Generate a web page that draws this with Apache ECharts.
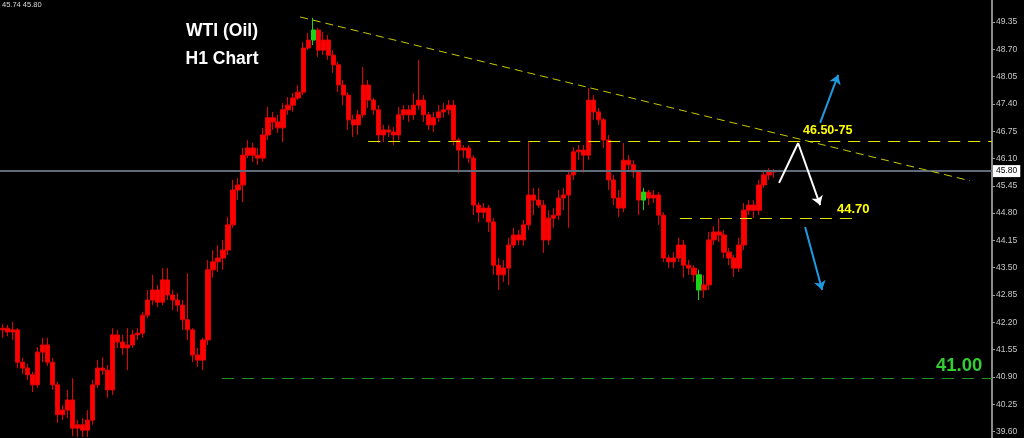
<!DOCTYPE html>
<html>
<head>
<meta charset="utf-8">
<script src="https://cdn.jsdelivr.net/npm/echarts@6/dist/echarts.min.js"></script>
<style>
html,body{margin:0;padding:0;background:#000;}
#chart{width:1024px;height:438px;}
</style>
</head>
<body>
<div id="chart"></div>
<script>
// ---- data (H1 candles, oldest first) ----
const open0 = 42.02;
const closes = [
42.06,41.97,42.02,41.25,41.11,40.95,40.71,41.49,41.66,41.25,
40.71,40.00,40.11,40.35,39.68,39.76,39.63,39.87,40.71,41.11,
41.06,40.59,41.90,41.73,41.59,41.66,41.90,41.94,42.37,42.73,
42.97,42.68,43.21,42.85,42.73,42.61,42.26,42.02,41.42,41.30,
41.78,43.45,43.64,43.73,43.92,44.52,45.35,45.47,46.18,46.35,
46.18,46.11,46.66,47.07,46.97,46.83,47.26,47.37,47.54,47.68,
48.73,48.92,49.16,48.68,48.92,48.56,48.33,47.85,47.61,47.02,
46.90,47.14,47.85,47.49,47.26,46.66,46.78,46.73,46.66,47.14,
47.26,47.14,47.37,47.49,47.14,46.90,47.07,47.21,47.26,47.37,
46.54,46.30,46.35,46.11,44.99,44.82,44.92,44.59,43.56,43.33,
43.49,44.04,44.28,44.16,44.52,45.23,45.11,44.99,44.16,44.68,
44.75,45.16,45.23,45.71,46.26,46.30,46.18,47.49,47.21,47.02,
46.54,45.59,45.16,44.92,46.06,45.95,45.78,45.11,45.30,45.16,
45.23,44.75,43.73,43.64,43.73,44.04,43.56,43.49,43.33,42.97,
43.09,44.16,44.35,44.28,43.87,43.73,43.49,44.04,44.87,44.99,
44.87,45.47,45.71,45.78,45.80];
const highs = [
42.16,42.14,42.21,42.06,41.35,41.21,41.02,41.61,41.83,41.83,
41.35,40.78,40.23,40.59,40.87,39.87,39.92,40.11,40.83,41.30,
41.37,41.18,42.06,42.02,41.90,42.06,42.02,42.06,42.45,42.97,
43.33,43.09,43.49,43.49,42.97,42.90,42.73,43.37,42.06,41.59,
41.83,43.68,43.92,44.04,44.16,44.71,45.59,45.64,46.35,46.54,
46.47,46.35,46.83,47.33,47.21,47.14,47.42,47.56,47.66,47.85,
48.87,49.09,49.45,49.21,49.11,49.04,48.68,48.40,47.97,47.68,
47.14,47.26,48.28,47.97,47.54,47.37,46.90,46.90,46.85,47.33,
47.37,47.37,47.66,48.45,47.61,47.21,47.21,47.37,47.42,47.49,
47.49,46.59,46.42,46.42,46.18,45.06,45.04,44.99,44.68,43.73,
43.68,44.21,44.45,44.40,44.64,46.49,45.40,45.40,45.11,44.87,
44.92,45.35,45.40,45.83,46.37,46.42,46.42,47.78,47.61,47.30,
47.07,46.66,45.71,45.35,46.47,46.18,46.06,45.83,45.40,45.35,
45.35,45.30,44.82,43.80,43.87,44.21,44.16,43.68,43.56,43.45,
43.33,44.35,44.49,44.68,44.40,43.97,43.80,44.21,45.04,45.11,
45.11,45.59,45.83,45.87,45.85];
const lows = [
41.83,41.87,41.78,41.11,40.97,40.83,40.54,40.64,41.25,41.16,
40.59,39.80,39.87,39.92,39.49,39.47,39.47,39.47,39.76,40.64,
40.95,40.40,40.47,41.59,41.42,41.06,41.59,41.78,41.83,42.30,
42.61,42.56,42.61,42.73,42.49,42.45,42.02,41.78,41.25,41.14,
41.06,41.66,43.26,43.40,43.45,43.80,44.45,45.11,45.06,46.11,
46.02,45.95,46.02,46.54,46.78,46.71,46.49,47.14,47.21,47.49,
47.61,48.68,48.80,48.52,48.56,48.45,48.14,47.68,47.37,46.78,
46.61,46.66,47.07,47.30,47.14,46.47,46.49,46.61,46.42,46.54,
47.02,46.97,47.02,47.26,46.97,46.78,46.73,46.97,47.07,47.14,
46.42,45.76,46.11,45.99,44.75,44.57,44.68,44.35,43.33,42.97,
43.16,43.09,43.97,44.04,44.02,44.40,44.75,44.92,43.85,44.04,
44.45,44.64,44.87,44.45,45.59,46.06,45.76,46.06,47.02,46.90,
46.35,45.35,44.99,44.71,44.82,45.83,45.64,44.75,44.87,44.99,
45.04,44.52,43.64,43.49,43.49,43.64,43.26,43.33,43.16,42.73,
42.78,42.97,44.04,44.11,43.73,43.56,43.28,43.40,43.92,44.75,
44.68,44.75,45.40,45.59,45.64];
const greenCandles = [62, 128, 139];
const slotCount = 198;                      // hourly slots across the plot (incl. empty future)
const tickLabels = [49.35,48.70,48.05,47.40,46.75,46.10,45.45,44.80,44.15,43.50,42.85,42.20,41.55,40.90,40.25,39.60];
const yMin = 39.445, yMax = 49.874;
const currentPrice = 45.80;
const bidAsk = '45.74 45.80';
// annotation lines: [slot position, price]
const trendLine = [[59.9, 49.47], [193.6, 45.57]];
const resistance = [[73.5, 46.51], [198, 46.51]];
const supportLine = [[135.7, 44.68], [170.7, 44.68]];
const greenLine = [[44.3, 40.87], [198, 40.87]];
const blueUp = [[163.7, 46.95], [167.3, 48.09]];
const blueDown = [[160.7, 44.47], [164.1, 42.97]];
const whiteUp = [[155.5, 45.52], [159.3, 46.47]];
const whiteDown = [[159.3, 46.47], [163.7, 44.99]];

// ---- build ----
const cats = [];
for (let i = 0; i < slotCount; i++) cats.push('h' + i);
const ohlc = closes.map((c, i) => {
  const o = i === 0 ? open0 : closes[i - 1];
  const item = { value: [o, c, lows[i], highs[i]] };
  if (greenCandles.includes(i)) {
    item.itemStyle = { color: '#19d419', color0: '#19d419', borderColor: '#19d419', borderColor0: '#19d419' };
  }
  return item;
});

const FONT = 'Liberation Sans, Arial, sans-serif';
const chart = echarts.init(document.getElementById('chart'), null, { renderer: 'canvas' });

function lineSeries(coords, color, width, type, arrow, z) {
  return {
    type: 'lines', coordinateSystem: 'cartesian2d', xAxisIndex: 1, yAxisIndex: 0,
    z: z || 5, silent: true, animation: false,
    symbol: arrow ? ['none', 'arrow'] : ['none', 'none'],
    symbolSize: arrow ? 9 : 0,
    lineStyle: { color: color, width: width, type: type, opacity: 1, curveness: 0 },
    data: [{ coords: coords }]
  };
}

chart.setOption({
  backgroundColor: '#000000',
  animation: false,
  grid: { left: 0, right: 32, top: 0, bottom: 0, containLabel: false },
  xAxis: [
    { type: 'category', data: cats, boundaryGap: true, show: false },
    { type: 'value', min: 0, max: slotCount, show: false }
  ],
  yAxis: {
    type: 'value', position: 'right', min: yMin, max: yMax, scale: true,
    axisLine: { show: true, onZero: false, lineStyle: { color: '#8a8a8a', width: 2 } },
    axisTick: { show: true, length: 3, customValues: tickLabels, lineStyle: { color: '#9a9a9a' } },
    axisLabel: { show: true, customValues: tickLabels, color: '#c8c8c8', fontSize: 8.5, fontFamily: FONT, margin: 4,
      formatter: v => v.toFixed(2) },
    splitLine: { show: false }
  },
  series: [
    {
      type: 'candlestick', name: 'WTI', z: 3,
      barWidth: '94%',
      itemStyle: { color: '#ff0000', color0: '#ff0000', borderColor: '#e60000', borderColor0: '#e60000', borderWidth: 1 },
      data: ohlc,
      markLine: {
        silent: true, symbol: ['none', 'none'], animation: false,
        lineStyle: { color: '#5f6b78', width: 2, type: 'solid' },
        label: { show: true, position: 'end', distance: 1, formatter: currentPrice.toFixed(2),
          backgroundColor: '#ffffff', color: '#000000', fontSize: 8.5, fontFamily: FONT, padding: [2, 3, 1, 3] },
        data: [{ yAxis: currentPrice }]
      }
    },
    lineSeries(trendLine, '#c9c900', 1, [8, 5], false),
    lineSeries(resistance, '#e6e600', 1, [12, 8], false),
    lineSeries(supportLine, '#e6e600', 1, [12, 8], false),
    lineSeries(greenLine, '#1f8f1f', 1, [12, 8], false),
    lineSeries(blueUp, '#1e9be0', 2, 'solid', true, 6),
    lineSeries(blueDown, '#1e9be0', 2, 'solid', true, 6),
    lineSeries(whiteUp, '#ffffff', 2, 'solid', false, 6),
    lineSeries(whiteDown, '#ffffff', 2, 'solid', true, 6)
  ],
  graphic: [
    { type: 'text', left: 2, top: 1, z: 10, style: { text: bidAsk, fill: '#d8d8d8', fontSize: 7.5, fontFamily: FONT } },
    { type: 'text', x: 222, y: 31.5, z: 10, style: { text: 'WTI (Oil)', fill: '#ffffff', fontSize: 17.5, fontWeight: 'bold', fontFamily: FONT, align: 'center', verticalAlign: 'middle' } },
    { type: 'text', x: 222, y: 59.5, z: 10, style: { text: 'H1 Chart', fill: '#ffffff', fontSize: 17.5, fontWeight: 'bold', fontFamily: FONT, align: 'center', verticalAlign: 'middle' } },
    { type: 'text', x: 803, y: 130.5, z: 10, style: { text: '46.50-75', fill: '#ffff00', fontSize: 12.5, fontWeight: 'bold', fontFamily: FONT, align: 'left', verticalAlign: 'middle' } },
    { type: 'text', x: 837, y: 209.5, z: 10, style: { text: '44.70', fill: '#ffff00', fontSize: 13, fontWeight: 'bold', fontFamily: FONT, align: 'left', verticalAlign: 'middle' } },
    { type: 'text', x: 936, y: 366, z: 10, style: { text: '41.00', fill: '#33cc33', fontSize: 18.5, fontWeight: 'bold', fontFamily: FONT, align: 'left', verticalAlign: 'middle' } }
  ]
});
</script>
</body>
</html>
